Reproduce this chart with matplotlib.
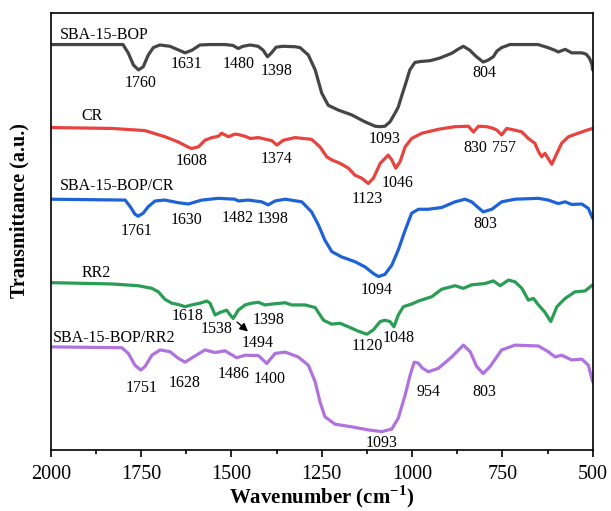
import matplotlib
matplotlib.use("Agg")
import matplotlib.pyplot as plt

plt.rcParams['font.family'] = ['Liberation Serif', 'DejaVu Serif']
plt.rcParams['mathtext.fontset'] = 'custom'
plt.rcParams['mathtext.rm'] = 'Liberation Serif'
plt.rcParams['mathtext.bf'] = 'Liberation Serif:bold'

# spectra (wavenumber cm-1, transmittance a.u.)
bop_wn = [2000,1800,1785,1771,1757,1744,1730,1716,1698,1670,1642,1628,1609,1587,1559,1518,1496,1481,1468,1448,
          1426,1412,1400,1390,1376,1357,1324,1310,1287,1268,1250,1232,1204,1167,1130,1102,1089,1075,1061,1047,
          1038,1028,1019,1006,992,978,950,923,890,873,858,840,823,803,790,775,765,752,729,715,
          651,624,605,595,576,558,530,518,509,502,500]
bop_t = [92.8,92.8,90.8,88.1,87.0,87.7,90.4,92.1,92.7,92.4,91.4,90.9,91.5,92.7,92.8,92.8,92.6,91.9,92.4,92.7,
         92.4,91.5,90.0,90.8,92.2,92.4,92.3,92.1,90.4,87.0,81.7,78.9,77.8,76.7,75.1,74.1,74.0,74.1,75.1,77.1,
         78.5,81.2,83.5,87.0,88.7,88.9,89.1,89.7,90.8,91.7,92.4,91.5,90.1,88.8,89.2,90.0,91.3,92.1,92.8,92.8,
         92.8,92.1,91.5,91.1,91.7,90.9,90.9,90.6,89.7,88.3,87.0]

cr_wn = [2000,1831,1739,1684,1647,1619,1610,1591,1573,1554,1536,1527,1508,1490,1481,1462,1448,1425,1388,1374,
         1356,1324,1278,1255,1236,1222,1199,1176,1158,1139,1121,1107,1088,1066,1056,1045,1033,1019,1001,973,
         927,881,844,830,816,793,775,765,752,738,715,696,678,660,650,641,632,623,613,599,
         586,567,540,516,500]
cr_t = [73.8,73.6,73.1,71.7,70.5,69.3,69.0,69.4,70.9,71.5,71.8,72.5,71.7,72.3,72.2,71.8,71.3,71.5,70.8,69.8,
        70.9,71.5,71.1,69.4,67.1,66.4,65.6,64.5,62.9,62.2,61.0,62.2,65.6,67.5,66.4,64.5,66.0,69.4,71.3,72.5,
        73.4,74.0,74.1,72.8,74.1,74.0,73.6,73.2,72.1,73.6,73.2,72.8,71.3,70.2,68.3,67.1,67.9,66.7,65.4,67.9,
        70.2,71.7,72.5,73.2,73.6]

bopcr_wn = [2000,1794,1780,1767,1758,1744,1730,1711,1684,1647,1619,1582,1536,1490,1481,1453,1416,1398,1379,1351,
            1305,1278,1259,1241,1222,1195,1158,1130,1107,1093,1075,1056,1038,1019,1001,982,955,918,881,853,
            835,803,779,752,715,650,623,595,576,558,530,512,500]
bopcr_t = [57.4,57.2,55.7,54.0,53.5,54.2,55.7,57.0,57.2,56.6,56.3,57.2,57.6,57.4,57.0,57.2,56.8,56.1,57.0,57.4,
           56.8,54.5,51.5,48.0,45.4,44.2,43.1,41.9,40.4,39.7,40.2,42.3,45.8,50.3,54.2,55.1,55.1,55.5,56.8,57.4,
           56.8,54.5,55.1,56.8,57.4,57.6,57.2,56.4,56.8,56.2,56.3,55.3,53.0]

rr2_wn = [2000,1831,1758,1720,1702,1684,1665,1647,1628,1610,1587,1568,1559,1545,1531,1513,1504,1495,1481,1462,
          1444,1425,1407,1388,1351,1333,1296,1268,1245,1222,1199,1176,1149,1125,1107,1088,1075,1061,1050,1038,
          1024,1001,982,945,918,881,858,835,798,775,756,733,715,696,678,664,650,632,616,599,
          576,549,521,500]
rr2_t = [38.3,38.0,37.6,37.0,36.2,34.5,33.6,33.3,32.8,33.2,33.6,34.1,33.6,30.9,31.5,32.0,31.0,30.1,32.0,33.2,
         33.6,33.8,33.2,33.4,33.7,33.2,33.2,32.6,29.7,28.8,29.0,28.2,27.2,26.5,27.5,29.4,29.7,29.4,28.2,30.9,
         32.8,33.4,34.1,35.1,36.8,37.6,37.0,37.8,38.1,38.7,37.6,38.9,38.5,37.0,34.3,34.7,33.2,31.5,29.4,32.8,
         34.7,36.2,36.4,37.8]

boprr2_wn = [2000,1803,1785,1767,1751,1739,1720,1697,1670,1647,1628,1605,1573,1545,1518,1485,1462,1425,1402,1379,
             1351,1315,1287,1268,1255,1241,1213,1167,1121,1084,1056,1038,1019,1005,994,983,972,955,927,890,
             858,839,821,803,784,752,715,650,623,604,586,558,530,512,500]
boprr2_t = [23.6,23.4,22.1,19.4,18.3,19.1,21.7,22.9,22.5,21.0,20.1,21.3,22.9,22.3,22.7,21.1,21.7,21.6,19.8,22.1,
            22.4,21.3,19.4,15.6,11.1,7.6,5.9,5.3,4.6,4.2,4.8,7.3,12.6,17.2,20.1,19.9,18.8,17.9,18.7,21.3,
            24.0,22.5,19.1,17.5,19.1,22.9,24.0,23.8,22.5,21.3,21.7,20.6,20.8,19.4,15.6]

series = [
    ("SBA-15-BOP", bop_wn, bop_t, "#454545", (1976, 94.0)),
    ("CR", cr_wn, cr_t, "#e8433f", (1914, 75.5)),
    ("SBA-15-BOP/CR", bopcr_wn, bopcr_t, "#1e63d6", (1976, 59.5)),
    ("RR2", rr2_wn, rr2_t, "#2a9d55", (1914, 39.7)),
    ("SBA-15-BOP/RR2", boprr2_wn, boprr2_t, "#b072de", (1993, 24.7)),
]

# peak labels: text, wavenumber, baseline height
peaks = [
    ("1760", 1750, 83.1), ("1631", 1624, 87.4), ("1480", 1479, 87.4), ("1398", 1374, 85.8),
    ("1093", 1077, 70.3), ("804", 801, 85.3),
    ("1608", 1610, 65.2), ("1374", 1374, 65.6), ("1123", 1123, 56.5), ("1046", 1039, 60.1),
    ("830", 826, 68.3), ("757", 746, 68.3),
    ("1761", 1762, 49.2), ("1630", 1624, 51.7), ("1482", 1482, 52.2), ("1398", 1387, 52.0),
    ("1094", 1097, 35.7), ("803", 796, 50.7),
    ("1618", 1620, 29.7), ("1538", 1542, 26.7), ("1398", 1397, 28.8), ("1494", 1426, 23.5),
    ("1120", 1124, 22.9), ("1048", 1036, 24.8),
    ("1751", 1748, 13.3), ("1628", 1629, 14.5), ("1486", 1493, 16.4), ("1400", 1394, 15.3),
    ("954", 954, 12.4), ("803", 799, 12.4), ("1093", 1083, 0.6),
]

fig = plt.figure(figsize=(6.11, 5.11), dpi=100)
ax = fig.add_axes([0.083, 0.1194, 0.887, 0.855])

for name, wn, t, col, (lx, ly) in series:
    ax.plot(wn, t, color=col, lw=2.3, solid_joinstyle='round', solid_capstyle='round')
    ax.text(lx, ly, name, fontsize=11.5, ha='left', va='baseline')

for txt, w, y in peaks:
    ax.text(w, y, txt, fontsize=11.5, ha='center', va='baseline')

ax.annotate("", xy=(1448, 26.7), xytext=(1490, 29.7),
            arrowprops=dict(arrowstyle='-|>', color='black', lw=1.0, mutation_scale=12))

ax.set_xlim(2000, 500)
ax.set_ylim(0, 100)
ax.set_xticks([2000, 1750, 1500, 1250, 1000, 750, 500])
ax.set_xticks([1875, 1625, 1375, 1125, 875, 625], minor=True)
ax.tick_params(axis='x', which='major', direction='out', length=5, width=1.2, labelsize=14.5, pad=6)
ax.tick_params(axis='x', which='minor', direction='out', length=3, width=1.2)
ax.set_yticks([])
for s in ax.spines.values():
    s.set_linewidth(1.2)

ax.set_xlabel(r'Wavenumber (cm$^{\mathbf{-1}}$)', fontsize=15, fontweight='bold', labelpad=-1)
ax.set_ylabel('Transmittance (a.u.)', fontsize=14.5, fontweight='bold')
ax.yaxis.set_label_coords(-0.04, 0.549)

fig.savefig("out.png", dpi=100)
